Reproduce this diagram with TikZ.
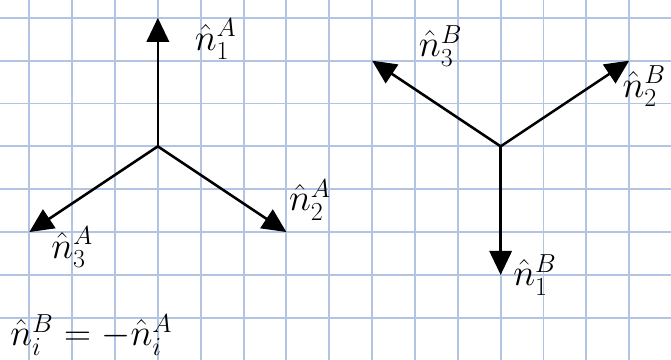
\documentclass[tikz,border=0pt]{standalone}
\usepackage{amsmath,amssymb}
\usepackage{xcolor}
\usepackage{tikz}
\usetikzlibrary{arrows.meta}

\definecolor{gridblue}{RGB}{178,196,226}

\begin{document}
\begin{tikzpicture}[
    x=1cm,
    y=1cm,
    gridline/.style={draw=gridblue, line width=1.3pt},
    vec/.style={-{Triangle[length=5.6mm, width=5.2mm]}, line width=1.7pt,
                color=black},
    lbl/.style={font=\fontsize{26}{30}\selectfont, inner sep=0pt},
]
\useasboundingbox (-0.684,-0.984) rectangle (14.976,7.416);
\fill[white] (-0.684,-0.984) rectangle (14.976,7.416);
\draw[gridline] (-0.684,-0.984) grid (14.976,7.416);

\coordinate (oa)  at (3,4);
\coordinate (a1)  at (3,7);
\coordinate (a2)  at (6,2);
\coordinate (a3)  at (0,2);
\coordinate (ob)  at (11,4);
\coordinate (b1)  at (11,1);
\coordinate (b2)  at (14,6);
\coordinate (b3)  at (8,6);

\draw[vec] (oa) -- (a1);
\draw[vec] (oa) -- (a2);
\draw[vec] (oa) -- (a3);
\draw[vec] (ob) -- (b1);
\draw[vec] (ob) -- (b2);
\draw[vec] (ob) -- (b3);

\node[lbl] (la1) at (4.35,6.50) {$\hat{n}_1^{A}$};
\node[lbl] (la2) at (6.55,2.75) {$\hat{n}_2^{A}$};
\node[lbl] (la3) at (1.00,1.65) {$\hat{n}_3^{A}$};
\node[lbl] (lb1) at (11.80,1.00) {$\hat{n}_1^{B}$};
\node[lbl] (lb2) at (14.35,5.40) {$\hat{n}_2^{B}$};
\node[lbl] (lb3) at (9.60,6.35) {$\hat{n}_3^{B}$};
\node[lbl, anchor=west] (rel) at (-0.45,-0.40)
    {$\hat{n}_i^{B}=-\hat{n}_i^{A}$};
\end{tikzpicture}
\end{document}
